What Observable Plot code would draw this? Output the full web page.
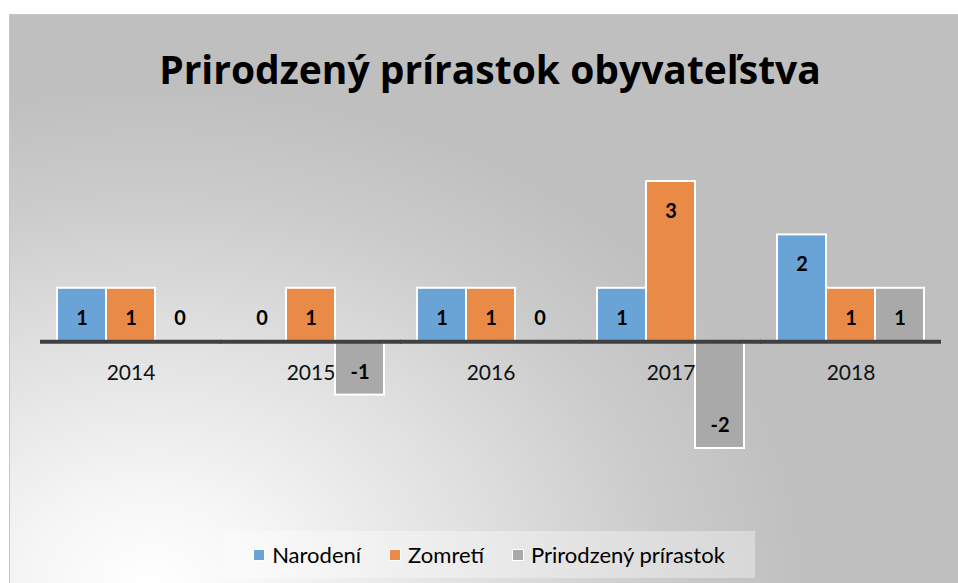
<!DOCTYPE html>
<html>
<head>
<meta charset="utf-8">
<script src="https://cdn.jsdelivr.net/npm/d3@7"></script>
<script src="https://cdn.jsdelivr.net/npm/@observablehq/plot@0.6"></script>
<style>
  html, body { margin: 0; padding: 0; background: #ffffff; overflow: hidden; }
  body { width: 958px; height: 583px; position: relative; font-family: "Lato", sans-serif; }
  #frame {
    position: absolute; left: 9px; top: 14px; width: 949px; height: 569px;
    border-left: 1px solid #c6c6c6; border-top: 1px solid #c6c6c6; box-sizing: border-box;
    background: radial-gradient(ellipse 660px 500px at 141px 569px, #ffffff 0%, #f6f6f6 18%, #e0e0e0 50%, #cbcbcb 78%, #bfbfbf 100%);
  }
  #title {
    position: absolute; left: 0; top: 49px; width: 980px; text-align: center;
    font-family: "Open Sans", sans-serif; font-weight: 700; font-size: 39px; line-height: 39px; color: #000;
  }
  #chart { position: absolute; left: 0; top: 150px; }
  #legend {
    position: absolute; left: 223px; top: 531px; width: 532px; height: 47px;
    background: rgba(255,255,255,0.35);
    display: flex; align-items: center; justify-content: center; gap: 28px;
    font-family: "Lato", sans-serif; font-size: 22px; color: #000;
  }
  .item { display: flex; align-items: center; gap: 7px; }
  .sw { width: 12px; height: 12px; box-sizing: border-box; border: 1px solid #fff; }
</style>
</head>
<body>
<div id="frame"></div>
<div id="title">Prirodzený prírastok obyvateľstva</div>
<div id="chart"></div>
<div id="legend"></div>
<script>
const years = ["2014", "2015", "2016", "2017", "2018"];
const series = ["Narodení", "Zomretí", "Prirodzený prírastok"];
const narodeni = [1, 0, 1, 1, 2];
const zomreti = [1, 1, 1, 3, 1];
const prirastok = [0, -1, 0, -2, 1];
const colors = ["#6aa3d6", "#e98a47", "#a9a9a9"];

const seriesValues = [narodeni, zomreti, prirastok];
const data = years.flatMap((year, i) =>
  series.map((s, j) => ({ year, series: s, value: seriesValues[j][i] }))
);

const plot = Plot.plot({
  width: 958,
  height: 330,
  marginLeft: 39,
  marginRight: 17,
  marginTop: 31,
  marginBottom: 32,
  style: { background: "transparent", overflow: "visible", fontFamily: "Lato" },
  fx: { domain: years, paddingInner: 0.186, paddingOuter: 0.093, axis: null },
  x: { domain: series, padding: 0, axis: null },
  y: { domain: [-2, 3], axis: null },
  color: { domain: series, range: colors },
  marks: [
    Plot.barY(data, { fx: "year", x: "series", y: "value", fill: "series", stroke: "#ffffff", strokeWidth: 2 }),
    Plot.ruleY([0], { stroke: "#404040", strokeWidth: 4, insetLeft: -17, insetRight: -17 }),
    Plot.text(years, { fx: d => d, y: 0, text: d => d, dy: 32, fontSize: 21, fill: "#111" }),
    Plot.text(data.filter(d => d.value > 0), { fx: "year", x: "series", y: "value", text: d => String(d.value), dy: 30, fontSize: 20, fontWeight: "bold", fill: "#000" }),
    Plot.text(data.filter(d => d.value <= 0), { fx: "year", x: "series", y: "value", text: d => String(d.value), dy: -23, fontSize: 20, fontWeight: "bold", fill: "#000" })
  ]
});
document.getElementById("chart").appendChild(plot);

const legend = document.getElementById("legend");
series.forEach((s, i) => {
  const item = document.createElement("div");
  item.className = "item";
  const sw = document.createElement("div");
  sw.className = "sw";
  sw.style.background = colors[i];
  const label = document.createElement("span");
  label.textContent = s;
  item.appendChild(sw);
  item.appendChild(label);
  legend.appendChild(item);
});
</script>
</body>
</html>
